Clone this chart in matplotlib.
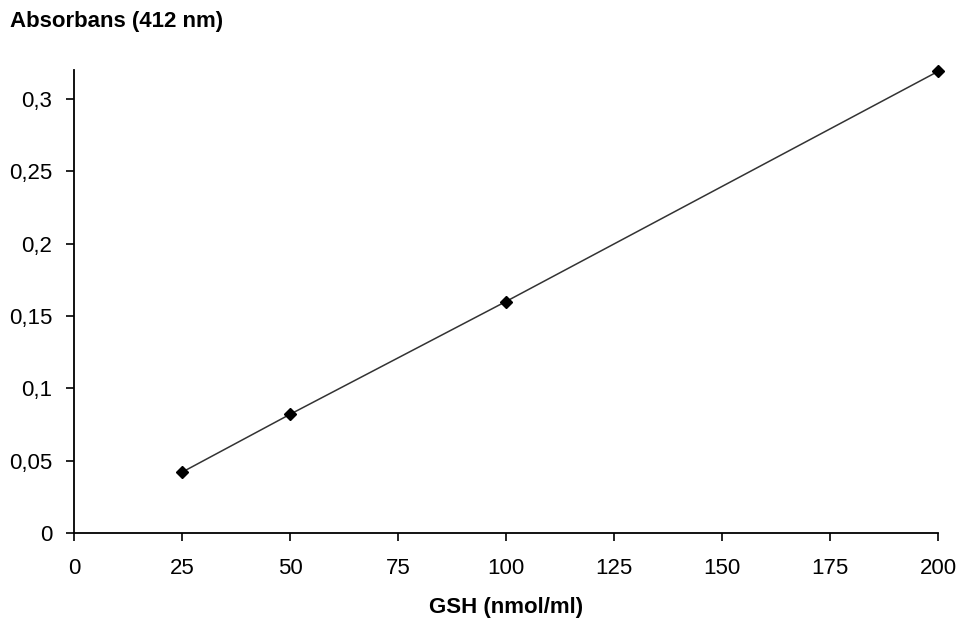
import matplotlib.pyplot as plt
from matplotlib.ticker import FuncFormatter

plt.rcParams['font.family'] = ['Liberation Sans', 'DejaVu Sans']

# Standard curve data
gsh = [25, 50, 100, 200]
absorbance = [0.042, 0.082, 0.16, 0.319]

x_ticks = [0, 25, 50, 75, 100, 125, 150, 175, 200]
y_ticks = [0, 0.05, 0.1, 0.15, 0.2, 0.25, 0.3]


def comma_fmt(v, pos):
    s = f'{v:.2f}'.rstrip('0').rstrip('.')
    return s.replace('.', ',')


fig = plt.figure(figsize=(9.62, 6.25), dpi=100)
ax = fig.add_axes([0.0769, 0.1472, 0.8981, 0.7408])

ax.plot(gsh, absorbance, color='#333333', linewidth=1.1,
        marker='D', markersize=6, markerfacecolor='black',
        markeredgecolor='black', clip_on=False)

ax.set_xlim(0, 200)
ax.set_ylim(0, 0.32)
ax.set_xticks(x_ticks)
ax.set_yticks(y_ticks)
ax.yaxis.set_major_formatter(FuncFormatter(comma_fmt))

for side in ['top', 'right']:
    ax.spines[side].set_visible(False)
for side in ['left', 'bottom']:
    ax.spines[side].set_linewidth(1.3)

ax.tick_params(direction='out', length=6, width=1.2, labelsize=16)
ax.tick_params(axis='y', pad=9.5)
ax.tick_params(axis='x', pad=12)

ax.set_xlabel('GSH (nmol/ml)', fontsize=16, fontweight='bold', labelpad=13)
fig.text(0.010, 0.965, 'Absorbans (412 nm)', fontsize=16,
         fontweight='bold', va='center', ha='left')

fig.savefig('out.png', dpi=100)
